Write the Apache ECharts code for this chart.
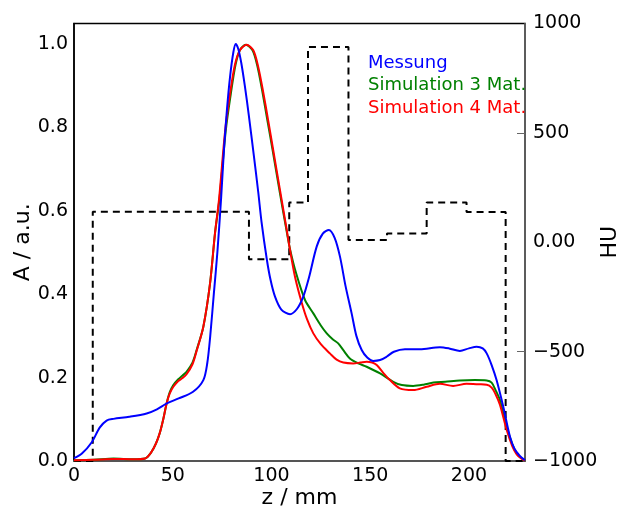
<!DOCTYPE html>
<html>
<head>
<meta charset="utf-8">
<script src="https://cdn.jsdelivr.net/npm/echarts@6/dist/echarts.min.js"></script>
<style>
  html, body { margin: 0; padding: 0; background: #fff; }
  #chart { width: 619px; height: 511px; }
</style>
</head>
<body>
<div id="chart"></div>
<script>
// Messung (z in mm, A in a.u.)
const messung = [
  [0, 0.007], [4, 0.018], [9, 0.045], [13, 0.08], [16.5, 0.097], [20, 0.101], [28, 0.106],
  [36.8, 0.114], [42, 0.124], [47, 0.138], [53, 0.15], [60.3, 0.166], [65.5, 0.194],
  [67.5, 0.235], [69, 0.3], [70.8, 0.4], [72.6, 0.5], [74.5, 0.63], [76, 0.75],
  [77.5, 0.845], [79, 0.92], [80.7, 0.98], [81.9, 1.0], [83.2, 0.988], [84.7, 0.955],
  [86.5, 0.9], [88.5, 0.83], [91, 0.735], [93.3, 0.645], [95, 0.572], [97.6, 0.485],
  [99.5, 0.435], [101.8, 0.394], [105, 0.363], [109.4, 0.352], [113, 0.365], [116.1, 0.394],
  [119, 0.44], [122.9, 0.514], [126, 0.545], [129.1, 0.554], [132, 0.535], [134.7, 0.49],
  [137.5, 0.42], [140.6, 0.354], [143, 0.3], [145.7, 0.266], [148.5, 0.248], [151.5, 0.24],
  [155, 0.242], [158.3, 0.25], [162, 0.262], [167.6, 0.268], [175.2, 0.268], [185.3, 0.273],
  [190, 0.27], [195.4, 0.264], [200, 0.27], [203.9, 0.274], [207, 0.27], [209, 0.258],
  [211.5, 0.23], [214, 0.194], [217.4, 0.13], [220.8, 0.058], [223, 0.03], [225.8, 0.012],
  [228.4, 0.002]
];

const sim3 = [
  [0, 0.002], [10, 0.003], [20, 0.006], [30, 0.004], [36, 0.006], [39, 0.02], [41.5, 0.042],
  [43.5, 0.068], [45.2, 0.1], [46.9, 0.138], [48.5, 0.165], [50.3, 0.182], [52.8, 0.196],
  [55, 0.205], [57, 0.214], [60, 0.236], [62.1, 0.266], [65.5, 0.322], [68.9, 0.426],
  [71.4, 0.546], [73.7, 0.63], [76.8, 0.79], [79.4, 0.88], [81.8, 0.95], [84, 0.985],
  [87, 0.998], [90.4, 0.985], [92.8, 0.948], [95.3, 0.888], [98, 0.815], [100.6, 0.745],
  [104, 0.65], [107.5, 0.556], [109.4, 0.508], [112.5, 0.45], [117, 0.386], [121.2, 0.354],
  [125, 0.325], [128, 0.306], [131, 0.292], [133.8, 0.282], [136.5, 0.265], [139.7, 0.246],
  [144, 0.234], [148.2, 0.226], [155, 0.21], [161.7, 0.19], [166, 0.182], [171.8, 0.18],
  [177, 0.183], [182, 0.188], [188, 0.19], [195.4, 0.193], [203, 0.194], [209, 0.193],
  [211.5, 0.188], [213.5, 0.17], [215.7, 0.146], [219.1, 0.082], [222, 0.04], [224.2, 0.018],
  [226.5, 0.007], [228.4, 0.001]
];

const sim4 = [
  [0, 0.002], [10, 0.003], [20, 0.005], [30, 0.004], [36, 0.006], [39, 0.02], [41.5, 0.042],
  [43.5, 0.068], [45.2, 0.1], [46.9, 0.138], [48.5, 0.162], [50.3, 0.178], [52.8, 0.192],
  [55, 0.199], [57, 0.208], [60, 0.232], [62.1, 0.264], [65.5, 0.322], [68.9, 0.426],
  [71.4, 0.546], [73.5, 0.63], [76.5, 0.79], [79, 0.88], [81.5, 0.95], [84, 0.985],
  [87.4, 0.998], [90.8, 0.985], [93.3, 0.945], [95.8, 0.885], [98.4, 0.815], [100.9, 0.745],
  [104.3, 0.65], [107.7, 0.555], [109.4, 0.506], [112, 0.44], [115.3, 0.38], [118, 0.34],
  [121.2, 0.306], [125, 0.28], [129.6, 0.258], [133, 0.243], [136.4, 0.236], [141.4, 0.234],
  [145, 0.236], [148.2, 0.238], [151, 0.236], [153.3, 0.23], [156.5, 0.212], [160, 0.194],
  [165, 0.174], [171.8, 0.17], [178.6, 0.178], [185.3, 0.185], [192, 0.18], [198.8, 0.185],
  [205, 0.184], [209, 0.183], [211.5, 0.176], [213.5, 0.16], [215.7, 0.135], [219.1, 0.075],
  [222, 0.035], [224.2, 0.016], [226.5, 0.006], [228.4, 0.001]
];

// HU-Profil: Stufengrenzen (mm) und Werte (HU)
const huEdges = [0, 9.5, 88.6, 109, 118.5, 139, 158.5, 178.6, 198.8, 218.6, 228.4];
const huLevels = [-1000, 139, -78, 182, 893, 10, 40, 182, 138, -1000];

const seriesNames = ['Messung', 'Simulation 3 Mat.', 'Simulation 4 Mat.'];
const seriesColors = ['#0000ff', '#008000', '#ff0000'];

const huData = [];
for (let i = 0; i < huLevels.length; i++) {
  huData.push([huEdges[i], huLevels[i]]);
}
huData.push([huEdges[huEdges.length - 1], huLevels[huLevels.length - 1]]);

const font = 'DejaVu Sans';
const chart = echarts.init(document.getElementById('chart'), null, { renderer: 'canvas' });

const option = {
  animation: false,
  textStyle: { fontFamily: font },
  grid: {
    left: 74, right: 94, top: 23.5, bottom: 50,
    containLabel: false, outerBoundsMode: 'none',
    show: true, borderColor: '#000', borderWidth: 1.5, backgroundColor: 'transparent'
  },
  legend: {
    orient: 'vertical',
    left: 358,
    top: 49,
    icon: 'none',
    itemWidth: 0,
    itemGap: 4.5,
    textStyle: { fontFamily: font, fontSize: 18 },
    data: seriesNames.map((n, i) => ({ name: n, textStyle: { color: seriesColors[i] } }))
  },
  xAxis: {
    type: 'value',
    min: 0, max: 228.4, interval: 50,
    name: 'z / mm', nameLocation: 'middle', nameGap: 26, nameMoveOverlap: false,
    nameTextStyle: { fontSize: 22, color: '#000', fontFamily: font },
    axisLine: { lineStyle: { color: '#555', width: 2 } },
    axisTick: { show: false },
    splitLine: { show: false },
    axisLabel: {
      fontSize: 19, color: '#000', margin: 6, fontFamily: font,
      formatter: v => (Math.abs(v % 50) < 1e-6 ? String(v) : '')
    }
  },
  yAxis: [{
    type: 'value',
    min: 0, max: 1.049, interval: 0.2,
    name: 'A / a.u.', nameLocation: 'middle', nameGap: 40, nameMoveOverlap: false,
    nameTextStyle: { fontSize: 22, color: '#000', fontFamily: font },
    axisLine: { show: true, lineStyle: { color: '#000', width: 1.5 } },
    axisTick: { show: false },
    splitLine: { show: false },
    axisLabel: {
      fontSize: 19, color: '#000', margin: 6, fontFamily: font,
      formatter: v => (v > 1.0001 ? '' : v.toFixed(1))
    }
  }, {
    type: 'value',
    position: 'right',
    min: -1000, max: 1000, interval: 500,
    name: 'HU', nameLocation: 'middle', nameGap: 74, nameMoveOverlap: false,
    nameRotate: 90,
    nameTextStyle: { fontSize: 22, color: '#000', fontFamily: font },
    axisLine: { show: true, lineStyle: { color: '#666', width: 1.5 } },
    axisTick: { show: true, inside: true, length: 8, lineStyle: { color: '#666', width: 1 },
                customValues: [-500, 500] },
    splitLine: { show: false },
    axisLabel: {
      fontSize: 19, color: '#000', margin: 8, fontFamily: font,
      formatter: v => (v === 0 ? '0.00' : (v < 0 ? '\u2212' + Math.abs(v) : String(v)))
    }
  }],
  series: [{
    name: 'HU-Profil',
    type: 'line',
    yAxisIndex: 1,
    step: 'end',
    data: huData,
    symbol: 'none',
    lineStyle: { color: '#000', width: 2, type: [7, 5] },
    z: 1
  }].concat([messung, sim3, sim4].map((d, i) => ({
    name: seriesNames[i],
    type: 'line',
    yAxisIndex: 0,
    data: d,
    smooth: 0.3,
    symbol: 'none',
    lineStyle: { color: seriesColors[i], width: 2 },
    itemStyle: { color: seriesColors[i] },
    z: 2 + (i === 0 ? 2 : i === 1 ? 0 : 1)
  })))
};

chart.setOption(option);
</script>
</body>
</html>
